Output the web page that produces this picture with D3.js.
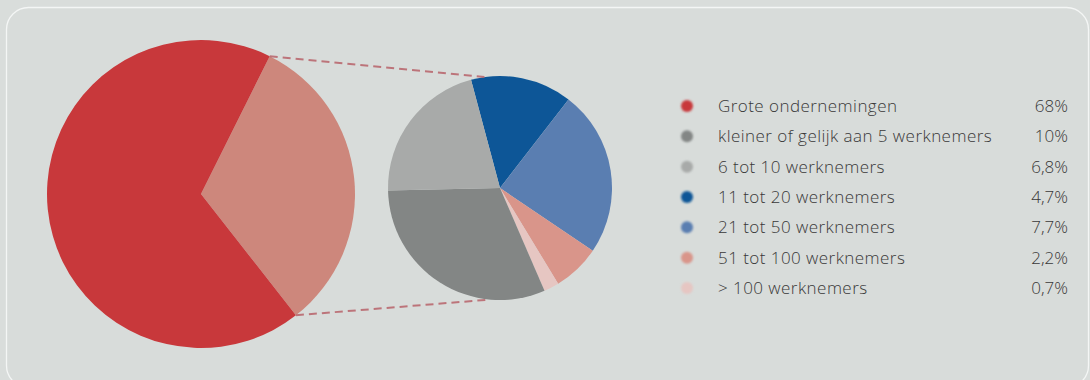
<!DOCTYPE html>
<html>
<head>
<meta charset="utf-8">
<script src="https://cdn.jsdelivr.net/npm/d3@7"></script>
<style>
  html, body { margin: 0; padding: 0; background: #d9dddb; }
  svg { display: block; }
  text { font-family: "Open Sans", "Noto Sans", sans-serif; font-weight: 300; }
</style>
</head>
<body>
<svg id="chart" width="1090" height="380"></svg>
<script>
// Share of employment by company size (percent)
const categories = [
  "Grote ondernemingen",
  "kleiner of gelijk aan 5 werknemers",
  "6 tot 10 werknemers",
  "11 tot 20 werknemers",
  "21 tot 50 werknemers",
  "51 tot 100 werknemers",
  "> 100 werknemers"
];
const values = [68, 10, 6.8, 4.7, 7.7, 2.2, 0.7];
const valueLabels = ["68%", "10%", "6,8%", "4,7%", "7,7%", "2,2%", "0,7%"];
const colors = ["#c8383b", "#838685", "#a8aaa9", "#0c5797", "#5a7eb1", "#d9958a", "#e6c6c2"];
const restColor = "#cd877b";

// Order of the SME slices around the detail pie (clockwise from the top)
const detailOrder = [3, 4, 5, 6, 1, 2];

const svg = d3.select("#chart");
const deg = Math.PI / 180;

// soft edges for the marks
const defs = svg.append("defs");
defs.append("filter").attr("id", "soft").attr("x", "-10%").attr("y", "-10%")
  .attr("width", "120%").attr("height", "120%")
  .append("feGaussianBlur").attr("stdDeviation", 0.7);
defs.append("filter").attr("id", "dotblur").attr("x", "-50%").attr("y", "-50%")
  .attr("width", "200%").attr("height", "200%")
  .append("feGaussianBlur").attr("stdDeviation", 1.3);

// panel frame
svg.append("rect")
  .attr("x", 6.5).attr("y", 7.5).attr("width", 1082).attr("height", 380)
  .attr("rx", 22).attr("ry", 22)
  .attr("fill", "#d8dcda").attr("stroke", "#f4f6f5").attr("stroke-width", 1.3);

// main pie: large companies vs. all SMEs
const smeTotal = d3.sum(detailOrder, i => values[i]);
const mainData = [
  { key: "kmo", value: smeTotal, color: restColor },
  { key: "groot", value: values[0], color: colors[0] }
];
const main = { cx: 201, cy: 194, r: 154 };
const smeStart = 26.5 * deg;
const mainPie = d3.pie().sort(null).value(d => d.value)
  .startAngle(smeStart).endAngle(smeStart + 2 * Math.PI);
const mainArcs = mainPie(mainData);
const mainArc = d3.arc().innerRadius(0).outerRadius(main.r);

svg.append("g")
  .attr("transform", `translate(${main.cx},${main.cy})`)
  .attr("filter", "url(#soft)")
  .selectAll("path").data(mainArcs).join("path")
  .attr("d", mainArc)
  .attr("fill", d => d.data.color);

// detail pie: breakdown of the SMEs
const detail = { cx: 500, cy: 188, r: 112 };
const detailData = detailOrder.map(i => ({ i, value: values[i], color: colors[i] }));
const detailStart = -15 * deg;
const detailPie = d3.pie().sort(null).value(d => d.value)
  .startAngle(detailStart).endAngle(detailStart + 2 * Math.PI);
const detailArc = d3.arc().innerRadius(0).outerRadius(detail.r);

svg.append("g")
  .attr("transform", `translate(${detail.cx},${detail.cy})`)
  .attr("filter", "url(#soft)")
  .selectAll("path").data(detailPie(detailData)).join("path")
  .attr("d", detailArc)
  .attr("fill", d => d.data.color);

// dashed connectors from the SME slice to the detail pie
const pt = (c, r, a) => [c.cx + r * Math.sin(a), c.cy - r * Math.cos(a)];
const sme = mainArcs[0];
const connectors = [
  [pt(main, main.r, sme.startAngle), pt(detail, detail.r, -8 * deg)],
  [pt(main, main.r, sme.endAngle), pt(detail, detail.r, 185 * deg)]
];
svg.append("g")
  .selectAll("line").data(connectors).join("line")
  .attr("x1", d => d[0][0]).attr("y1", d => d[0][1])
  .attr("x2", d => d[1][0]).attr("y2", d => d[1][1])
  .attr("stroke", "#b8636a").attr("stroke-width", 2)
  .attr("stroke-dasharray", "8,5")
  .attr("opacity", 0.85);

// legend
const rowY = d3.scalePoint().domain(d3.range(categories.length)).range([106, 288]);
const legend = svg.append("g");
const rows = legend.selectAll("g").data(categories).join("g")
  .attr("transform", (d, i) => `translate(0,${rowY(i)})`);
rows.append("circle")
  .attr("cx", 687).attr("cy", 0).attr("r", 6)
  .attr("fill", (d, i) => colors[i])
  .attr("filter", "url(#dotblur)");
rows.append("text")
  .attr("x", 718).attr("y", 0).attr("dy", "0.36em")
  .attr("font-size", 17).attr("letter-spacing", 0.45).attr("fill", "#383838")
  .text(d => d);
rows.append("text")
  .attr("x", 1068).attr("y", 0).attr("dy", "0.36em")
  .attr("text-anchor", "end")
  .attr("font-size", 17).attr("fill", "#383838")
  .text((d, i) => valueLabels[i]);
</script>
</body>
</html>
